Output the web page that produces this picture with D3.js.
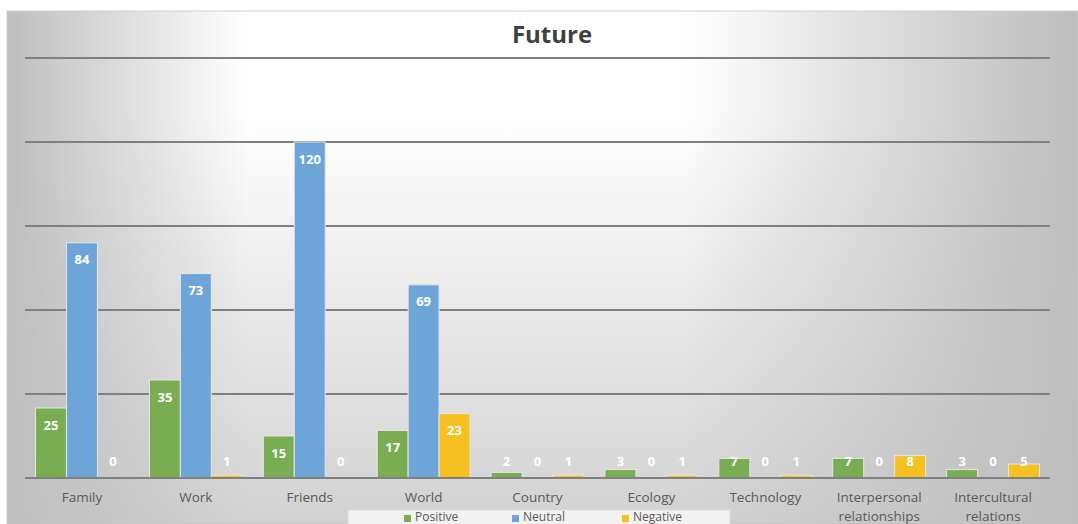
<!DOCTYPE html>
<html>
<head>
<meta charset="utf-8">
<script src="https://cdn.jsdelivr.net/npm/d3@7"></script>
<style>
  body { margin: 0; background: #fff; }
  svg { display: block; font-family: "Open Sans", "Liberation Sans", sans-serif; }
</style>
</head>
<body>
<script>
// chart data
var categories = ["Family", "Work", "Friends", "World", "Country", "Ecology", "Technology", "Interpersonal relationships", "Intercultural relations"];
var seriesNames = ["Positive", "Neutral", "Negative"];
var positive = [25, 35, 15, 17, 2, 3, 7, 7, 3];
var neutral  = [84, 73, 120, 69, 0, 0, 0, 0, 0];
var negative = [0, 1, 0, 23, 1, 1, 1, 8, 5];
var yTicks = [0, 30, 60, 90, 120, 150];
var colors = ["#78ad52", "#6ea5d8", "#f6c120"];

var W = 1078, H = 524;
var margin = {top: 58, right: 28, bottom: 46, left: 25},
    width = W - margin.left - margin.right,
    height = H - margin.top - margin.bottom;

var svg = d3.select("body").append("svg")
    .attr("width", W)
    .attr("height", H);

// background: grey at the sides, white in the upper middle, greying downwards
var defs = svg.append("defs");
var hGrad = defs.append("linearGradient")
    .attr("id", "bgH")
    .attr("gradientUnits", "userSpaceOnUse")
    .attr("x1", 7).attr("x2", 1078).attr("y1", 0).attr("y2", 0);
[[0, "#bebebe", 1], [0.225, "#ffffff", 1], [0.63, "#ffffff", 1], [0.99, "#bebebe", 1]].forEach(function(s) {
  hGrad.append("stop").attr("offset", s[0]).attr("stop-color", s[1]);
});
var vGrad = defs.append("linearGradient")
    .attr("id", "bgV")
    .attr("gradientUnits", "userSpaceOnUse")
    .attr("x1", 0).attr("x2", 0).attr("y1", 11).attr("y2", 524);
[[0, 0], [0.2, 0], [1, 0.7]].forEach(function(s) {
  vGrad.append("stop").attr("offset", s[0]).attr("stop-color", "#bebebe").attr("stop-opacity", s[1]);
});

svg.append("rect")
    .attr("x", 7).attr("y", 11)
    .attr("width", W - 7).attr("height", H - 11)
    .attr("fill", "url(#bgH)")
    .attr("stroke", "#d0d0d0")
    .attr("stroke-width", 1);
svg.append("rect")
    .attr("x", 7).attr("y", 11)
    .attr("width", W - 7).attr("height", H - 11)
    .attr("fill", "url(#bgV)");

var g = svg.append("g")
    .attr("transform", "translate(" + margin.left + "," + margin.top + ")");

var x0 = d3.scaleBand()
    .domain(categories)
    .range([0, width])
    .paddingInner(0.185)
    .paddingOuter(0.0925);
var x1 = d3.scaleBand()
    .domain(seriesNames)
    .range([0, x0.bandwidth()])
    .padding(0);
var y = d3.scaleLinear()
    .domain([0, 150])
    .range([height, 0]);

// gridlines
g.selectAll(".grid")
    .data(yTicks)
  .enter().append("line")
    .attr("x1", 0).attr("x2", width)
    .attr("y1", function(d) { return y(d); })
    .attr("y2", function(d) { return y(d); })
    .attr("stroke", "#7f7f7f")
    .attr("stroke-width", 2);

var rows = categories.map(function(c, i) {
  return {cat: c, vals: [positive[i], neutral[i], negative[i]]};
});

var groups = g.selectAll(".group")
    .data(rows)
  .enter().append("g")
    .attr("transform", function(d) { return "translate(" + x0(d.cat) + ",0)"; });

var cells = groups.selectAll(".cell")
    .data(function(d) { return d.vals.map(function(v, j) { return {s: seriesNames[j], v: v, j: j}; }); })
  .enter();

cells.filter(function(d) { return d.v > 0; }).append("rect")
    .attr("x", function(d) { return x1(d.s); })
    .attr("width", x1.bandwidth())
    .attr("y", function(d) { return y(d.v); })
    .attr("height", function(d) { return height - y(d.v); })
    .attr("fill", function(d) { return colors[d.j]; })
    .attr("stroke", "#e6e6e6")
    .attr("stroke-width", 1);

// value labels
cells.append("text")
    .attr("x", function(d) { return x1(d.s) + x1.bandwidth() / 2; })
    .attr("y", function(d) { return Math.min(y(d.v) + 17, height - 17); })
    .attr("dy", "0.35em")
    .attr("text-anchor", "middle")
    .attr("fill", "#ffffff")
    .attr("font-weight", "bold")
    .attr("font-size", "13px")
    .text(function(d) { return d.v; });

// x axis baseline (drawn over bars)
g.append("line")
    .attr("x1", 0).attr("x2", width)
    .attr("y1", height).attr("y2", height)
    .attr("stroke", "#7f7f7f")
    .attr("stroke-width", 2);

// category labels, wrapped
var xAxis = g.append("g")
    .attr("transform", "translate(0," + height + ")")
    .call(d3.axisBottom(x0).tickSize(0).tickPadding(0));
xAxis.select(".domain").remove();
xAxis.selectAll("text")
    .attr("fill", "#595959")
    .attr("font-size", "13.5px")
    .attr("font-family", "'Open Sans', sans-serif")
    .each(function(d) {
      var t = d3.select(this), words = d.split(" ");
      t.text(null);
      words.forEach(function(w, i) {
        t.append("tspan").attr("x", 0).attr("y", 19 + i * 19).attr("dy", "0.35em").text(w);
      });
    });

// title
svg.append("text")
    .attr("x", 552).attr("y", 35)
    .attr("dy", "0.35em")
    .attr("text-anchor", "middle")
    .attr("fill", "#404040")
    .attr("font-size", "24px")
    .attr("font-weight", "bold")
    .text("Future");

// legend (cut by the bottom edge like in the source picture)
var legend = svg.append("g").attr("transform", "translate(348,510)");
legend.append("rect")
    .attr("width", 382).attr("height", 20)
    .attr("fill", "#f2f2f2")
    .attr("stroke", "#d9d9d9");
var legX = [56, 164, 274];
seriesNames.forEach(function(s, i) {
  legend.append("rect")
      .attr("x", legX[i]).attr("y", 5)
      .attr("width", 7).attr("height", 7)
      .attr("fill", colors[i]);
  legend.append("text")
      .attr("x", legX[i] + 11).attr("y", 7)
      .attr("dy", "0.35em")
      .attr("fill", "#595959")
      .attr("font-size", "12px")
      .text(s);
});
</script>
</body>
</html>
